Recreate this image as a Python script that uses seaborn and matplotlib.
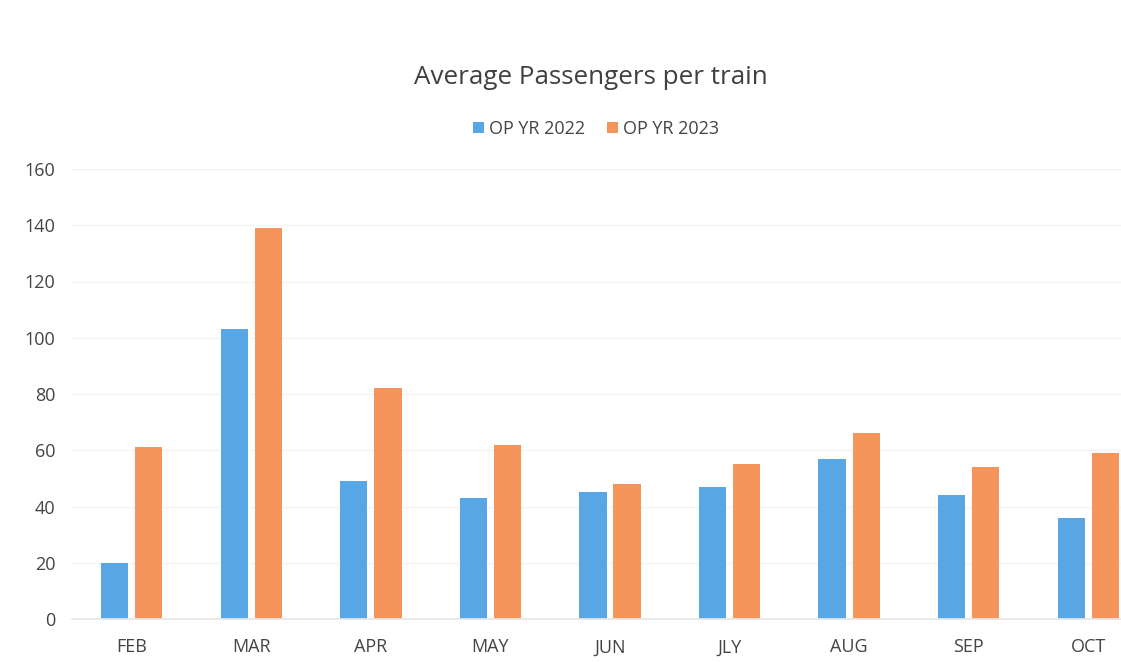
import matplotlib
matplotlib.use("Agg")
import matplotlib.pyplot as plt
import seaborn as sns
import pandas as pd

months = ["FEB", "MAR", "APR", "MAY", "JUN", "JLY", "AUG", "SEP", "OCT"]
yr2022 = [20, 103, 49, 43, 45, 47, 57, 44, 36]
yr2023 = [61, 139, 82, 62, 48, 55, 66, 54, 59]
series_names = ["OP YR 2022", "OP YR 2023"]
colors = ["#58A6E3", "#F5955C"]
yticks = [0, 20, 40, 60, 80, 100, 120, 140, 160]

df = pd.DataFrame({
    "Month": months * 2,
    "Value": yr2022 + yr2023,
    "Series": [series_names[0]] * len(months) + [series_names[1]] * len(months),
})

sns.set_theme(style="white")
plt.rcParams["font.family"] = ["Open Sans", "DejaVu Sans"]

fig = plt.figure(figsize=(11.21, 6.62), dpi=100)
W, H = 1121, 662
left, right = 72, 1148
bottom, top = 619, 169
ax = fig.add_axes([left / W, 1 - bottom / H, (right - left) / W, (bottom - top) / H])

sns.barplot(data=df, x="Month", y="Value", hue="Series", order=months,
            hue_order=series_names, palette=colors, width=0.57, gap=0.2,
            saturation=1, linewidth=0, ax=ax, legend=True)

ax.set_ylim(0, 160)
ax.set_xlim(-0.5, len(months) - 0.5)
ax.set_yticks(yticks)
ax.set_xlabel("")
ax.set_ylabel("")
ax.yaxis.grid(True, color="#f4f4f4", linewidth=1)
ax.set_axisbelow(True)
for s in ["top", "right", "left"]:
    ax.spines[s].set_visible(False)
ax.spines["bottom"].set_color("#e6e6e6")
ax.tick_params(axis="both", length=0, labelsize=13, labelcolor="#444444")
ax.tick_params(axis="y", pad=12)
ax.tick_params(axis="x", pad=14)

handles, labels = ax.get_legend_handles_labels()
ax.legend_.remove()
fig.legend(handles, labels, loc="center", bbox_to_anchor=(596 / W, 1 - 129 / H),
           ncol=2, frameon=False, fontsize=13, handlelength=0.6, handleheight=0.6,
           handletextpad=0.3, columnspacing=1.2, labelcolor="#444444")

fig.text(591 / W, 1 - 78 / H, "Average Passengers per train", ha="center", va="center",
         fontsize=18.7, color="#404040")

fig.savefig("out.png", dpi=100)
